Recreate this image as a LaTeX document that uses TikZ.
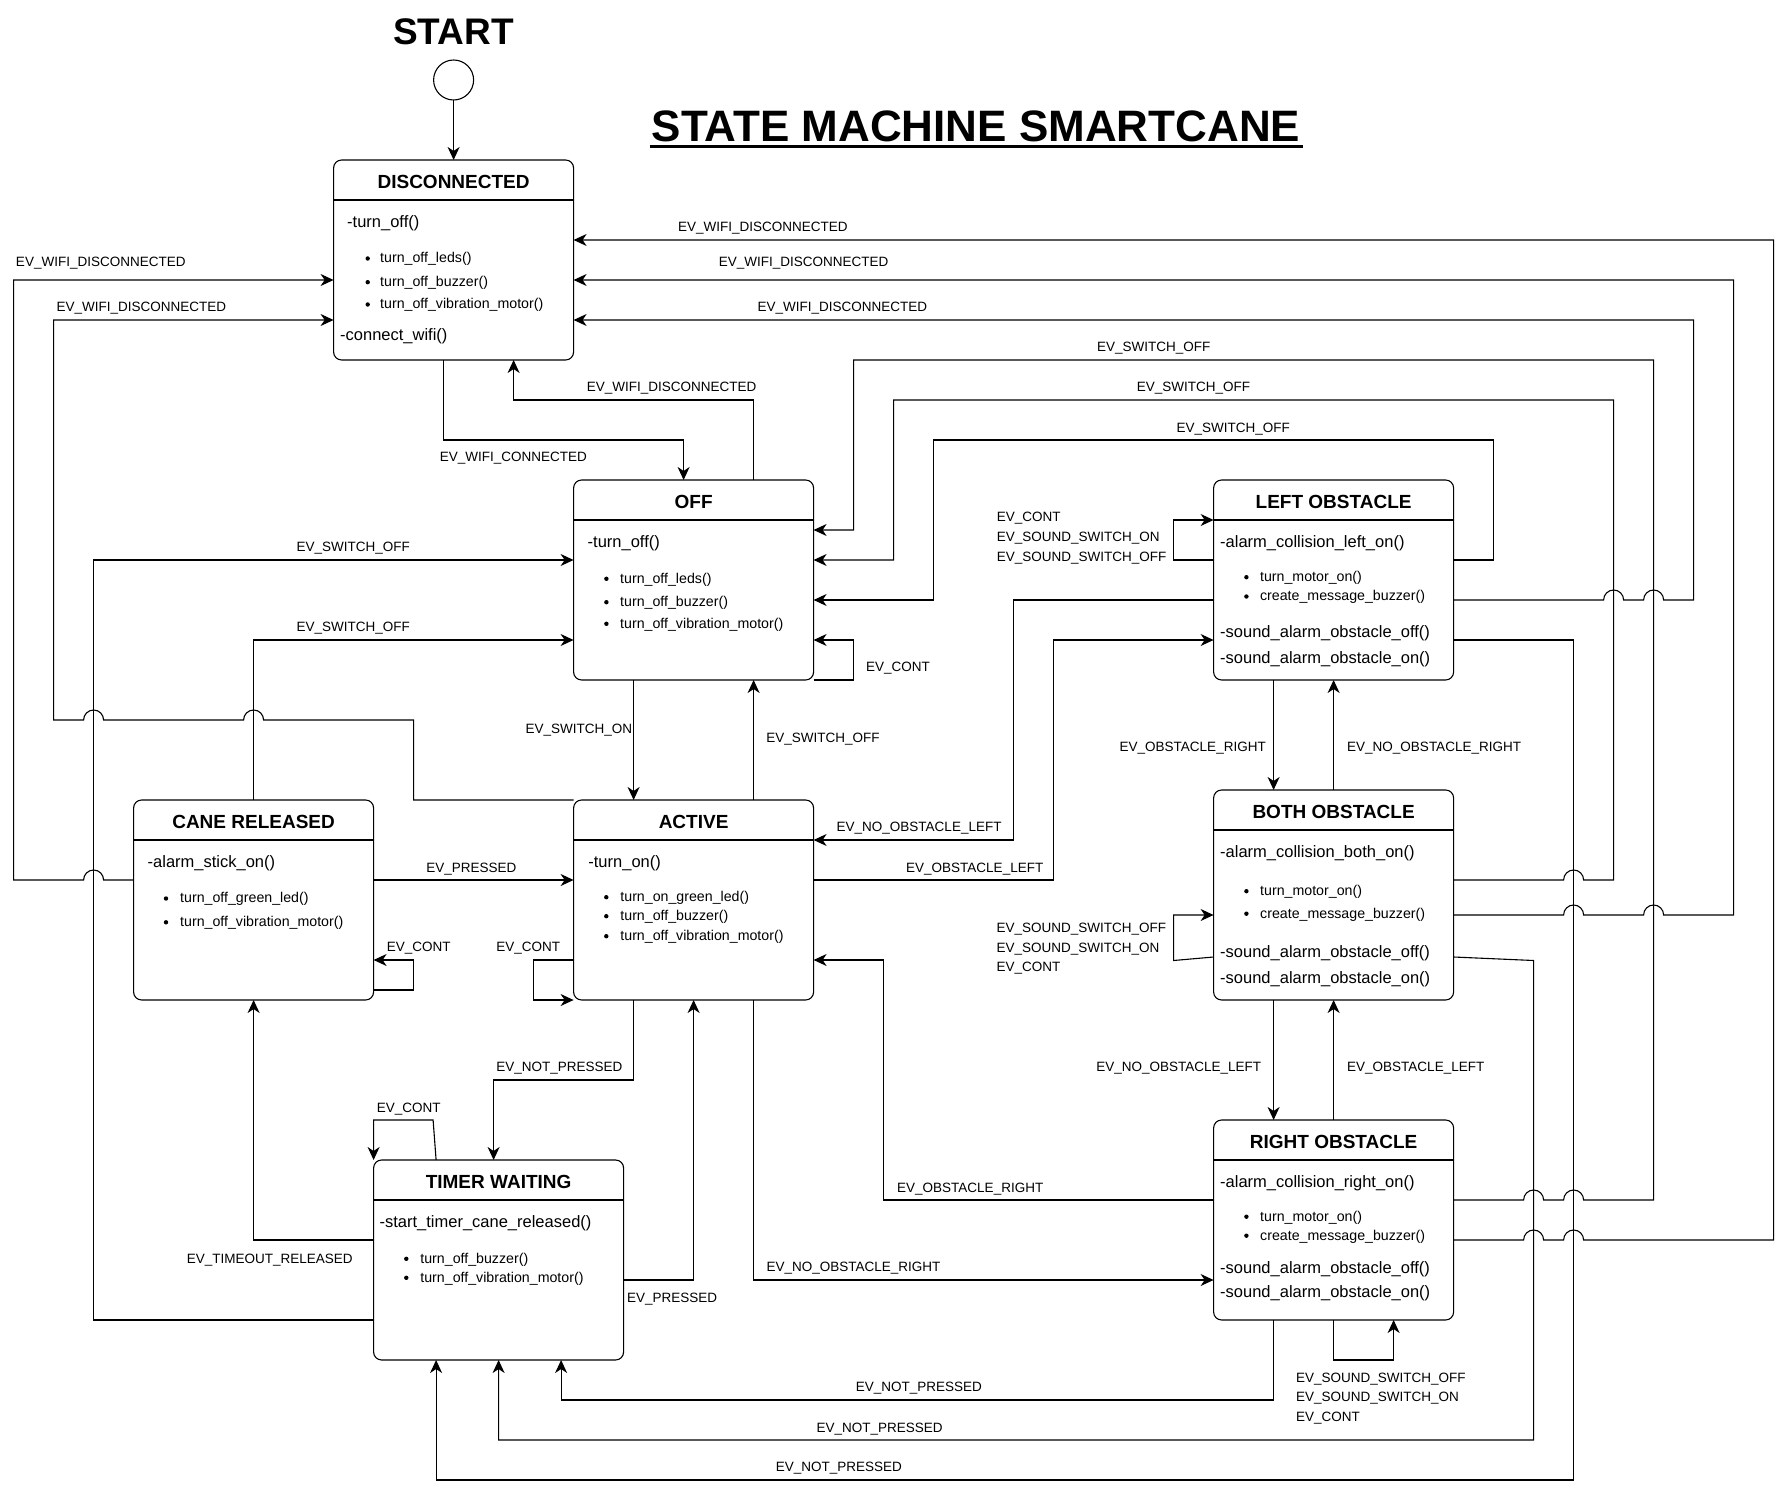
\documentclass[tikz,border=0pt]{standalone}
\usepackage{fontspec}
\setmainfont{Liberation Sans}
\usetikzlibrary{arrows.meta,calc}
\begin{document}
\begin{tikzpicture}[x=1pt,y=-1pt,
  statebox/.style={draw, line width=1.1pt, rounded corners=8pt, inner sep=0pt, outer sep=0pt},
  hdrtxt/.style={font=\fontsize{19}{22}\selectfont\bfseries, inner sep=0pt, anchor=center},
  acttxt/.style={font=\fontsize{16.5}{19}\selectfont, inner sep=0pt, anchor=base west},
  itemtxt/.style={font=\fontsize{14.2}{17}\selectfont, inner sep=0pt, anchor=base west},
  lbltxt/.style={font=\fontsize{13.5}{16}\selectfont, inner sep=0pt, anchor=base west},
  lbltxte/.style={lbltxt, anchor=base east},
  conn/.style={line width=1.1pt},
  arr/.style={conn, -{Stealth[length=13pt,width=12pt,inset=4pt]}},
  hdrline/.style={line width=1.1pt}]

\fill[white] (0,0) rectangle (1788,1495);
\useasboundingbox (0,0) rectangle (1788,1495);

% ---------- title and start ----------
\node[font=\fontsize{44}{50}\selectfont\bfseries, inner sep=0pt, anchor=base] (title) at (976,141.7) {STATE MACHINE SMARTCANE};
\draw[line width=3.3pt] ($(title.base west)+(-2,5)$) -- ($(title.base east)+(2,5)$);
\node[font=\fontsize{37}{42}\selectfont\bfseries, inner sep=0pt, anchor=base] (starttxt) at (453.6,45) {START};
\node[circle, draw, line width=1.1pt, minimum size=40pt, inner sep=0pt, outer sep=0pt] (st) at (453.6,80) {};

% ---------- state boxes ----------
\node[statebox, minimum width=240pt, minimum height=200pt] (disc) at (453.6,260) {};
\node[statebox, minimum width=240pt, minimum height=200pt] (off) at (693.6,580) {};
\node[statebox, minimum width=240pt, minimum height=200pt] (act) at (693.6,900) {};
\node[statebox, minimum width=240pt, minimum height=200pt] (cr) at (253.6,900) {};
\node[statebox, minimum width=250pt, minimum height=200pt] (tmr) at (498.6,1260) {};
\node[statebox, minimum width=240pt, minimum height=200pt] (lft) at (1333.6,580) {};
\node[statebox, minimum width=240pt, minimum height=210pt] (both) at (1333.6,895) {};
\node[statebox, minimum width=240pt, minimum height=200pt] (rgt) at (1333.6,1220) {};

\foreach \b in {disc,off,act,cr,tmr,lft,both,rgt}
  \draw[hdrline] ($(\b.north west)+(0,40)$) -- ($(\b.north east)+(0,40)$);

\node[hdrtxt] (discT) at ($(disc.north)+(0,21.5)$) {DISCONNECTED};
\node[hdrtxt] (offT) at ($(off.north)+(0,21.5)$) {OFF};
\node[hdrtxt] (actT) at ($(act.north)+(0,21.5)$) {ACTIVE};
\node[hdrtxt] (crT) at ($(cr.north)+(0,21.5)$) {CANE RELEASED};
\node[hdrtxt] (tmrT) at ($(tmr.north)+(0,21.5)$) {TIMER WAITING};
\node[hdrtxt] (lftT) at ($(lft.north)+(0,21.5)$) {LEFT OBSTACLE};
\node[hdrtxt] (bothT) at ($(both.north)+(0,21.5)$) {BOTH OBSTACLE};
\node[hdrtxt] (rgtT) at ($(rgt.north)+(0,21.5)$) {RIGHT OBSTACLE};

% ---------- box contents ----------
% DISCONNECTED
\node[acttxt] (d1) at (347,227.2) {-turn\_off()};
\node[itemtxt] (d2) at (380,262.8) {turn\_off\_leds()};
\node[itemtxt] (d3) at (380,286.5) {turn\_off\_buzzer()};
\node[itemtxt] (d4) at (380,308.8) {turn\_off\_vibration\_motor()};
\node[acttxt] (d5) at (340,340.5) {-connect\_wifi()};
\fill (367.7,258.5) circle[radius=2.2pt] (367.7,282.2) circle[radius=2.2pt] (367.7,304.5) circle[radius=2.2pt];
% OFF
\node[acttxt] (o1) at (587.5,547.2) {-turn\_off()};
\node[itemtxt] (o2) at (620,583.1) {turn\_off\_leds()};
\node[itemtxt] (o3) at (620,606.5) {turn\_off\_buzzer()};
\node[itemtxt] (o4) at (620,628.1) {turn\_off\_vibration\_motor()};
\fill (606.4,578.8) circle[radius=2.2pt] (606.4,602.2) circle[radius=2.2pt] (606.4,623.8) circle[radius=2.2pt];
% ACTIVE
\node[acttxt] (a1) at (588.2,867.8) {-turn\_on()};
\node[itemtxt] (a2) at (620.2,901.5) {turn\_on\_green\_led()};
\node[itemtxt] (a3) at (620.2,920.5) {turn\_off\_buzzer()};
\node[itemtxt] (a4) at (620.2,940.5) {turn\_off\_vibration\_motor()};
\fill (606.3,897.2) circle[radius=2.2pt] (606.3,916.2) circle[radius=2.2pt] (606.3,936.2) circle[radius=2.2pt];
% CANE RELEASED
\node[acttxt] (c1) at (147.5,867.5) {-alarm\_stick\_on()};
\node[itemtxt] (c2) at (180,902.8) {turn\_off\_green\_led()};
\node[itemtxt] (c3) at (180,926.6) {turn\_off\_vibration\_motor()};
\fill (166,898.5) circle[radius=2.2pt] (166,922.3) circle[radius=2.2pt];
% TIMER WAITING
\node[acttxt] (t1) at (379.4,1227.2) {-start\_timer\_cane\_released()};
\node[itemtxt] (t2) at (420.2,1263.1) {turn\_off\_buzzer()};
\node[itemtxt] (t3) at (420.2,1282.1) {turn\_off\_vibration\_motor()};
\fill (406.3,1258.8) circle[radius=2.2pt] (406.3,1277.8) circle[radius=2.2pt];
% LEFT OBSTACLE
\node[acttxt] (lo1) at (1220,547.2) {-alarm\_collision\_left\_on()};
\node[itemtxt] (lo2) at (1259.9,581.5) {turn\_motor\_on()};
\node[itemtxt] (lo3) at (1259.9,600.8) {create\_message\_buzzer()};
\node[acttxt] (lo4) at (1220,637.2) {-sound\_alarm\_obstacle\_off()};
\node[acttxt] (lo5) at (1220,663.8) {-sound\_alarm\_obstacle\_on()};
\fill (1246.4,577.2) circle[radius=2.2pt] (1246.4,596.5) circle[radius=2.2pt];
% BOTH OBSTACLE
\node[acttxt] (bo1) at (1220,857.5) {-alarm\_collision\_both\_on()};
\node[itemtxt] (bo2) at (1260,895.5) {turn\_motor\_on()};
\node[itemtxt] (bo3) at (1260,918) {create\_message\_buzzer()};
\node[acttxt] (bo4) at (1220,957.5) {-sound\_alarm\_obstacle\_off()};
\node[acttxt] (bo5) at (1220,983.7) {-sound\_alarm\_obstacle\_on()};
\fill (1246.4,891.2) circle[radius=2.2pt] (1246.4,913.7) circle[radius=2.2pt];
% RIGHT OBSTACLE
\node[acttxt] (ro1) at (1220,1187.3) {-alarm\_collision\_right\_on()};
\node[itemtxt] (ro2) at (1260,1221) {turn\_motor\_on()};
\node[itemtxt] (ro3) at (1260,1240) {create\_message\_buzzer()};
\node[acttxt] (ro4) at (1220,1273.2) {-sound\_alarm\_obstacle\_off()};
\node[acttxt] (ro5) at (1220,1297.2) {-sound\_alarm\_obstacle\_on()};
\fill (1246.4,1216.7) circle[radius=2.2pt] (1246.4,1235.7) circle[radius=2.2pt];

% ---------- connectors ----------
\draw[arr] (st.south) -- (disc.north);
% DISC <-> OFF
\draw[arr] ($(disc.south west)+(110,0)$) -- ++(0,80) -| ($(off.north west)+(110,0)$);
\draw[arr] ($(off.north west)+(180,0)$) -- ++(0,-80) -| ($(disc.south west)+(180,0)$);
% wifi disconnected from the right
\draw[arr] ($(rgt.north east)+(0,120)$) -- (1523.6,1240) arc[start angle=180,end angle=0,radius=10pt]
  -- (1563.6,1240) arc[start angle=180,end angle=0,radius=10pt] -- (1773.6,1240) |- ($(disc.north east)+(0,80)$);
\draw[arr] ($(both.north east)+(0,125)$) -- (1563.6,915) arc[start angle=180,end angle=0,radius=10pt]
  -- (1643.6,915) arc[start angle=180,end angle=0,radius=10pt] -- (1733.6,915) |- ($(disc.north east)+(0,120)$);
\draw[arr] ($(lft.north east)+(0,120)$) -- (1603.6,600) arc[start angle=180,end angle=0,radius=10pt]
  -- (1643.6,600) arc[start angle=180,end angle=0,radius=10pt] -- (1693.6,600) |- ($(disc.north east)+(0,160)$);
% wifi disconnected from the left
\draw[arr] ($(cr.north west)+(0,80)$) -- (103.6,880) arc[start angle=0,end angle=180,radius=10pt]
  -- (13.6,880) |- ($(disc.north west)+(0,120)$);
\draw[arr] (act.north west) -- (413.6,800) -- (413.6,720) -- (263.6,720) arc[start angle=0,end angle=180,radius=10pt]
  -- (103.6,720) arc[start angle=0,end angle=180,radius=10pt] -- (53.6,720) |- ($(disc.north west)+(0,160)$);
% switch off from obstacles
\draw[arr] ($(rgt.north east)+(0,80)$) -- (1523.6,1200) arc[start angle=180,end angle=0,radius=10pt]
  -- (1563.6,1200) arc[start angle=180,end angle=0,radius=10pt] -- (1653.6,1200) |- (853.6,360) |- ($(off.north east)+(0,50)$);
\draw[arr] ($(both.north east)+(0,90)$) -- (1563.6,880) arc[start angle=180,end angle=0,radius=10pt]
  -- (1613.6,880) |- (893.6,400) |- ($(off.north east)+(0,80)$);
\draw[arr] ($(lft.north east)+(0,80)$) -- (1493.6,560) |- (933.6,440) |- ($(off.north east)+(0,120)$);
% OFF self loop
\draw[arr] (off.south east) -- ++(40,0) |- ($(off.north east)+(0,160)$);
% OFF <-> ACTIVE
\draw[arr] ($(off.south west)+(60,0)$) -- ($(act.north west)+(60,0)$);
\draw[arr] ($(act.north west)+(180,0)$) -- ($(off.south west)+(180,0)$);
% to OFF from the left
\draw[arr] (cr.north) |- ($(off.north west)+(0,160)$);
\draw[arr] ($(tmr.north west)+(0,160)$) -- (93.6,1320) |- ($(off.north west)+(0,80)$);
% CANE RELEASED
\draw[arr] ($(cr.north east)+(0,80)$) -- ($(act.north west)+(0,80)$);
\draw[arr] ($(cr.north east)+(0,190)$) -- ++(40,0) |- ($(cr.north east)+(0,160)$);
% ACTIVE self loop
\draw[arr] ($(act.north west)+(0,160)$) -- ++(-40,0) |- (act.south west);
% ACTIVE <-> TIMER
\draw[arr] ($(act.south west)+(60,0)$) -- ++(0,80) -| ($(tmr.north west)+(120,0)$);
\draw[arr] ($(tmr.north east)+(0,120)$) -| ($(act.south west)+(120,0)$);
% TIMER self loop and timeout
\draw[arr] ($(tmr.north west)+(62.5,0)$) -- (433.1,1120) -- (373.6,1120) -- (tmr.north west);
\draw[arr] ($(tmr.north west)+(0,80)$) -| (cr.south);
% ACTIVE <-> LEFT
\draw[arr] ($(act.north east)+(0,80)$) -- (1053.6,880) |- ($(lft.north west)+(0,160)$);
\draw[arr] ($(lft.north west)+(0,120)$) -- (1013.6,600) |- ($(act.north east)+(0,40)$);
% LEFT self loop
\draw[arr] ($(lft.north west)+(0,80)$) -- ++(-40,0) |- ($(lft.north west)+(0,40)$);
% LEFT <-> BOTH
\draw[arr] ($(lft.south west)+(60,0)$) -- ($(both.north west)+(60,0)$);
\draw[arr] ($(both.north west)+(120,0)$) -- ($(lft.south west)+(120,0)$);
% BOTH self loop
\draw[arr] ($(both.north west)+(0,167)$) -- (1173.6,960.5) -- (1173.6,915) -- ($(both.north west)+(0,125)$);
% BOTH <-> RIGHT
\draw[arr] ($(both.south west)+(60,0)$) -- ($(rgt.north west)+(60,0)$);
\draw[arr] ($(rgt.north west)+(120,0)$) -- ($(both.south west)+(120,0)$);
% ACTIVE <-> RIGHT
\draw[arr] ($(rgt.north west)+(0,80)$) -- (883.6,1200) |- ($(act.north east)+(0,160)$);
\draw[arr] ($(act.south west)+(180,0)$) |- ($(rgt.north west)+(0,160)$);
% RIGHT self loop
\draw[arr] ($(rgt.south west)+(120,0)$) -- ++(0,40) -| ($(rgt.south west)+(180,0)$);
% not pressed to TIMER
\draw[arr] ($(rgt.south west)+(60,0)$) -- ++(0,80) -| ($(tmr.south west)+(187.5,0)$);
\draw[arr] ($(both.north east)+(0,167)$) -- (1533.6,960.5) -- (1533.6,1440) -| ($(tmr.south west)+(125,0)$);
\draw[arr] ($(lft.north east)+(0,160)$) -- (1573.6,640) -- (1573.6,1480) -| ($(tmr.south west)+(62.5,0)$);

% ---------- labels ----------
\node[lbltxt] (l1) at (15.8,266.8) {EV\_WIFI\_DISCONNECTED};
\node[lbltxt] (l2) at (56.5,311.5) {EV\_WIFI\_DISCONNECTED};
\node[lbltxt] (l3) at (678,231.5) {EV\_WIFI\_DISCONNECTED};
\node[lbltxt] (l4) at (718.7,266.5) {EV\_WIFI\_DISCONNECTED};
\node[lbltxt] (l5) at (757.5,311.5) {EV\_WIFI\_DISCONNECTED};
\node[lbltxt] (l6) at (586.7,391.5) {EV\_WIFI\_DISCONNECTED};
\node[lbltxte] (l7) at (587,461.5) {EV\_WIFI\_CONNECTED};
\node[lbltxt] (l8) at (1096.8,351.5) {EV\_SWITCH\_OFF};
\node[lbltxt] (l9) at (1136.6,391.8) {EV\_SWITCH\_OFF};
\node[lbltxt] (l10) at (1176.4,432.5) {EV\_SWITCH\_OFF};
\node[lbltxt] (l11) at (296.5,551.8) {EV\_SWITCH\_OFF};
\node[lbltxt] (l12) at (296.5,631.8) {EV\_SWITCH\_OFF};
\node[lbltxt] (l13) at (866,671.5) {EV\_CONT};
\node[lbltxte] (l14) at (632.4,733.1) {EV\_SWITCH\_ON};
\node[lbltxt] (l15) at (766.2,742.1) {EV\_SWITCH\_OFF};
\node[lbltxt] (l16a) at (996.6,521.5) {EV\_CONT};
\node[lbltxt] (l16b) at (996.6,541.5) {EV\_SOUND\_SWITCH\_ON};
\node[lbltxt] (l16c) at (996.6,561.5) {EV\_SOUND\_SWITCH\_OFF};
\node[lbltxt] (l17) at (1119.5,751.8) {EV\_OBSTACLE\_RIGHT};
\node[lbltxt] (l18) at (1347,751.8) {EV\_NO\_OBSTACLE\_RIGHT};
\node[lbltxt] (l19) at (836.5,831.5) {EV\_NO\_OBSTACLE\_LEFT};
\node[lbltxt] (l20) at (906,872.1) {EV\_OBSTACLE\_LEFT};
\node[lbltxt] (l21) at (426.2,872.3) {EV\_PRESSED};
\node[lbltxt] (l22) at (386.7,951.8) {EV\_CONT};
\node[lbltxt] (l23) at (496.2,951.8) {EV\_CONT};
\node[lbltxt] (l24a) at (996.5,932.1) {EV\_SOUND\_SWITCH\_OFF};
\node[lbltxt] (l24b) at (996.5,952.1) {EV\_SOUND\_SWITCH\_ON};
\node[lbltxt] (l24c) at (996.5,971.5) {EV\_CONT};
\node[lbltxt] (l25) at (1096.2,1071.6) {EV\_NO\_OBSTACLE\_LEFT};
\node[lbltxt] (l26) at (1347,1071.6) {EV\_OBSTACLE\_LEFT};
\node[lbltxt] (l27) at (496.2,1071.5) {EV\_NOT\_PRESSED};
\node[lbltxt] (l28) at (376.6,1112.1) {EV\_CONT};
\node[lbltxt] (l29) at (897,1192.1) {EV\_OBSTACLE\_RIGHT};
\node[lbltxt] (l30) at (186.7,1263.1) {EV\_TIMEOUT\_RELEASED};
\node[lbltxt] (l31) at (766.3,1271.5) {EV\_NO\_OBSTACLE\_RIGHT};
\node[lbltxt] (l32) at (626.8,1302.1) {EV\_PRESSED};
\node[lbltxt] (l33a) at (1296,1382.1) {EV\_SOUND\_SWITCH\_OFF};
\node[lbltxt] (l33b) at (1296,1401.5) {EV\_SOUND\_SWITCH\_ON};
\node[lbltxt] (l33c) at (1296,1421.5) {EV\_CONT};
\node[lbltxt] (l34) at (855.7,1391.5) {EV\_NOT\_PRESSED};
\node[lbltxt] (l35) at (816.5,1432.1) {EV\_NOT\_PRESSED};
\node[lbltxt] (l36) at (775.7,1471.5) {EV\_NOT\_PRESSED};
\end{tikzpicture}
\end{document}
